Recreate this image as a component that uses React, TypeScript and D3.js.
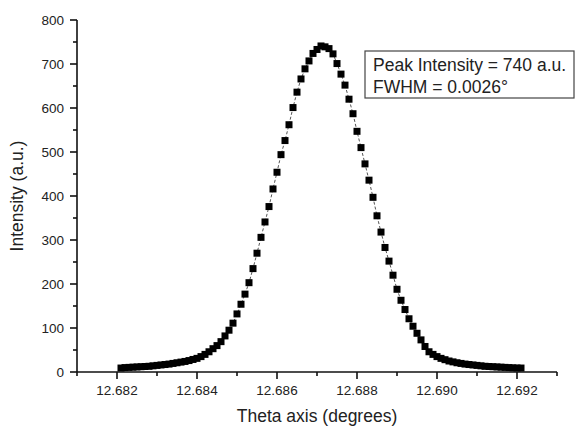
import React from "react";
import * as d3 from "d3";

const thetaStart = 12.6821;
const thetaStep = 0.0001;
const intensity = [
  9, 10, 10.5, 11, 11.5, 12, 12.5, 13, 14, 15,
  16, 17, 18, 19.5, 21, 22.5, 24, 26, 28.5, 31,
  35, 40, 46, 53, 60, 69, 82, 95, 111, 132,
  154, 177, 203, 235, 270, 306, 341, 376, 416, 454,
  494, 526, 562, 601, 636, 666, 689, 707, 724, 733,
  741, 739, 735, 723, 701, 677, 652, 620, 587, 547,
  510, 473, 436, 397, 355, 318, 283, 252, 220, 188,
  163, 142, 121, 104, 88, 73, 58, 46, 40, 35,
  31, 28, 25, 23, 21, 19.5, 18, 17, 16, 15,
  14, 13, 12.5, 12, 11.5, 11, 10.5, 10, 9.5, 9, 9,
];
const theta = intensity.map((_, i) => +(thetaStart + i * thetaStep).toFixed(4));

const xMajorTicks = [12.682, 12.684, 12.686, 12.688, 12.69, 12.692];
const xMinorTicks = [12.681, 12.683, 12.685, 12.687, 12.689, 12.691, 12.693];
const yMajorTicks = [0, 100, 200, 300, 400, 500, 600, 700, 800];
const yMinorTicks = [50, 150, 250, 350, 450, 550, 650, 750];
const legendLines = ["Peak Intensity = 740 a.u.", "FWHM = 0.0026°"];

const W = 575;
const H = 429;
const left = 77;
const right = 557;
const top = 20;
const bottom = 372;
const font = "'Liberation Sans', Arial, sans-serif";
const textColor = "#222";

export default function App() {
  const x = d3.scaleLinear().domain([12.681, 12.693]).range([left, right]);
  const y = d3.scaleLinear().domain([0, 800]).range([bottom, top]);
  const pts = theta.map((t, i) => [x(t), y(intensity[i])] as [number, number]);
  const line = d3.line()(pts) || "";
  const ms = 7;
  return (
    <svg
      width={W}
      height={H}
      style={{ position: "absolute", left: 0, top: 0, background: "#fff" }}
      fontFamily={font}
    >
      <rect x={0} y={0} width={W} height={H} fill="#fff" />
      <path d={line} fill="none" stroke="#555" strokeWidth={1} strokeDasharray="3,2" />
      {pts.map(([px, py], i) => (
        <rect key={i} x={px - ms / 2} y={py - ms / 2} width={ms} height={ms} fill="#000" />
      ))}
      {/* axes */}
      <line x1={left} x2={left} y1={top} y2={bottom} stroke="#111" strokeWidth={1.6} />
      <line x1={left} x2={right} y1={bottom} y2={bottom} stroke="#111" strokeWidth={1.6} />
      {yMajorTicks.map((v) => (
        <g key={"ym" + v}>
          <line x1={left - 7} x2={left} y1={y(v)} y2={y(v)} stroke="#111" strokeWidth={1.6} />
          <text x={left - 13} y={y(v) + 4.8} textAnchor="end" fontSize={13.5} fill={textColor}>
            {v}
          </text>
        </g>
      ))}
      {yMinorTicks.map((v) => (
        <line key={"yn" + v} x1={left - 4} x2={left} y1={y(v)} y2={y(v)} stroke="#111" strokeWidth={1.6} />
      ))}
      {xMajorTicks.map((v) => (
        <g key={"xm" + v}>
          <line x1={x(v)} x2={x(v)} y1={bottom} y2={bottom + 7} stroke="#111" strokeWidth={1.6} />
          <text x={x(v)} y={bottom + 23} textAnchor="middle" fontSize={13.5} fill={textColor}>
            {d3.format(".3f")(v)}
          </text>
        </g>
      ))}
      {xMinorTicks.map((v) => (
        <line key={"xn" + v} x1={x(v)} x2={x(v)} y1={bottom} y2={bottom + 4} stroke="#111" strokeWidth={1.6} />
      ))}
      <text x={(left + right) / 2} y={422} textAnchor="middle" fontSize={17.5} fill={textColor}>
        Theta axis (degrees)
      </text>
      <text
        transform={`translate(23,${(top + bottom) / 2}) rotate(-90)`}
        textAnchor="middle"
        fontSize={17.5}
        fill={textColor}
      >
        Intensity (a.u.)
      </text>
      {/* legend box */}
      <rect x={365} y={51} width={209} height={47} fill="#fff" stroke="#444" strokeWidth={1.2} />
      {legendLines.map((s, i) => (
        <text key={i} x={373} y={71 + i * 21.5} fontSize={17.5} fill={textColor}>
          {s}
        </text>
      ))}
    </svg>
  );
}
